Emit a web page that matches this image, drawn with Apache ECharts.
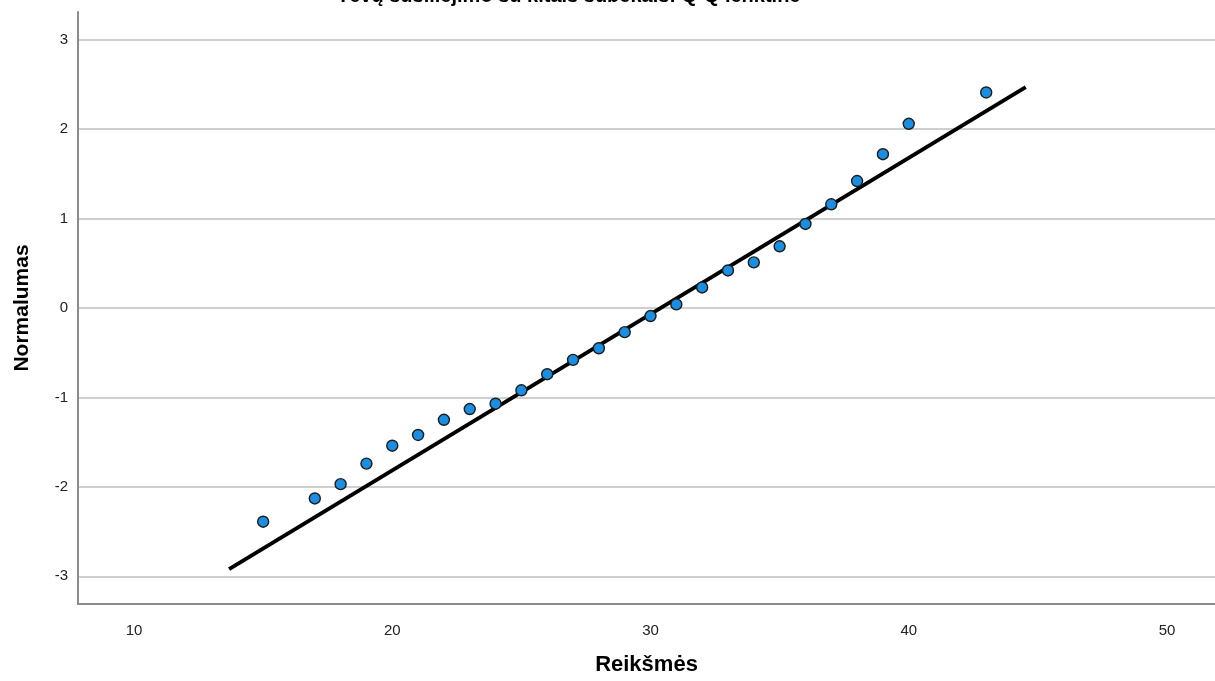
<!DOCTYPE html>
<html>
<head>
<meta charset="utf-8">
<script src="https://cdn.jsdelivr.net/npm/echarts@6/dist/echarts.min.js"></script>
<style>
html, body { margin: 0; padding: 0; background: #fff; }
#chart { width: 1215px; height: 681px; }
</style>
</head>
<body>
<div id="chart"></div>
<script>
// observed values (x) and expected normal value (y)
var obsX = [15, 17, 18, 19, 20, 21, 22, 23, 24, 25, 26, 27, 28, 29, 30, 31, 32, 33, 34, 35, 36, 37, 38, 39, 40, 43]
var expY = [-2.39, -2.13, -1.97, -1.74, -1.54, -1.42, -1.25, -1.13, -1.07, -0.92, -0.74, -0.58, -0.45, -0.27, -0.09, 0.04, 0.23, 0.42, 0.51, 0.69, 0.94, 1.16, 1.42, 1.72, 2.06, 2.41]
// reference line end points
var lineX = [13.68, 44.53]
var lineY = [-2.92, 2.47]
var xTicks = [10, 20, 30, 40, 50]
var yTicks = [-3, -2, -1, 0, 1, 2, 3]

var points = []
for (var i = 0; i < obsX.length; i++){
    points.push([obsX[i], expY[i]])
}
var linePts = [[lineX[0], lineY[0]], [lineX[1], lineY[1]]]

var font = 'Liberation Sans, Arial, sans-serif'
var chart = echarts.init(document.getElementById('chart'))
chart.setOption({
    animation: false,
    title: {
        text: 'Tėvų susiliejimo su kitais subekais: Q-Q lenktinė',
        left: 332,
        top: -19,
        textStyle: {fontFamily: font, fontSize: 20, fontWeight: 'bold', color: '#000'}
    },
    grid: {left: 78, right: 0, top: 12, bottom: 75},
    xAxis: {
        type: 'value',
        min: 7.83,
        max: 51.86,
        name: 'Reikšmės',
        nameLocation: 'middle',
        nameGap: 50,
        nameTextStyle: {fontFamily: font, fontSize: 22, fontWeight: 'bold', color: '#000'},
        axisLine: {onZero: false, lineStyle: {color: '#8c8c8c', width: 2}},
        axisTick: {show: false, customValues: xTicks},
        splitLine: {show: false},
        axisLabel: {
            fontFamily: font, fontSize: 15, color: '#222', margin: 19,
            customValues: xTicks
        }
    },
    yAxis: {
        type: 'value',
        min: -3.31,
        max: 3.31,
        name: 'Normalumas',
        nameLocation: 'middle',
        nameGap: 45,
        nameTextStyle: {fontFamily: font, fontSize: 21, fontWeight: 'bold', color: '#000'},
        axisLine: {show: true, onZero: false, lineStyle: {color: '#8c8c8c', width: 2}},
        axisTick: {show: false, customValues: yTicks},
        splitLine: {show: true, lineStyle: {color: '#cfcfcf', width: 2}},
        axisLabel: {
            fontFamily: font, fontSize: 15, color: '#222', margin: 10,
            customValues: yTicks
        }
    },
    series: [
        {
            type: 'line',
            data: linePts,
            symbol: 'none',
            lineStyle: {color: '#000', width: 4},
            z: 2
        },
        {
            type: 'scatter',
            data: points,
            symbolSize: 11,
            itemStyle: {color: '#1a8ee0', borderColor: '#1c1c1c', borderWidth: 1.4, opacity: 1},
            z: 3
        }
    ]
})
</script>
</body>
</html>
